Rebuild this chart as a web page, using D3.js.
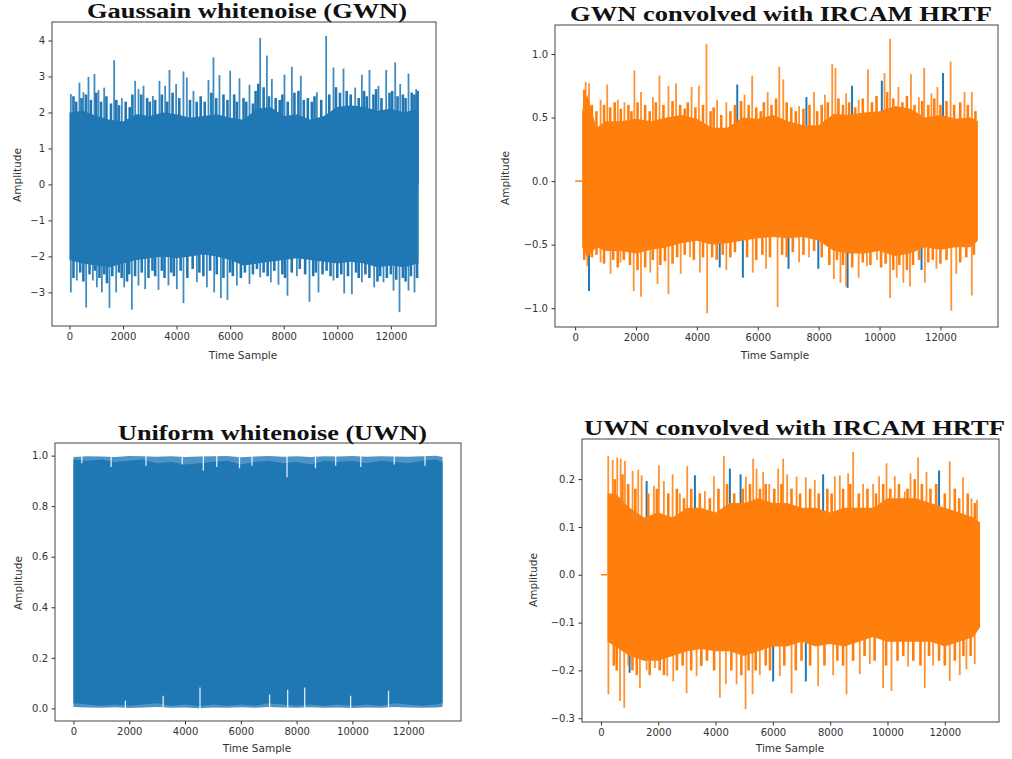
<!DOCTYPE html>
<html>
<head>
<meta charset="utf-8">
<script src="https://cdn.jsdelivr.net/npm/d3@7"></script>
<style>
    body { margin: 0; background: #ffffff; }
    svg { display: block; }
    .tick text { font-family: "DejaVu Sans", sans-serif; font-size: 10px; fill: #333333; }
    .tick line { stroke: #333333; }
</style>
</head>
<body>
<div id="chart"></div>
<script>
// signal lengths (samples) and onset of the convolved signals
const gwnLength = 13034;
const uwnLength = 13230;
const convLength = 13230;
const hrtfOnset = 230;

// ---- Gaussian white noise: dense body envelope + peak spikes [sample, amplitude]
const gwnBodyT = [0, 500, 1000, 1500, 2000, 2500, 3000, 3500, 4000, 4500, 5000, 5500, 6000, 6500, 7000,
    7500, 8000, 8500, 9000, 9500, 10000, 10500, 11000, 11500, 12000, 12500, 13000, 13034];
const gwnBodyHi = [2.0, 2.05, 1.9, 1.8, 1.75, 1.95, 1.9, 2.0, 1.95, 1.85, 1.9, 1.95, 1.85, 1.8, 2.1,
    2.15, 1.9, 1.95, 1.8, 1.9, 2.15, 2.2, 2.15, 2.05, 2.1, 2.0, 2.1, 2.1];
const gwnBodyLo = [-2.1, -2.2, -2.25, -2.3, -2.2, -2.1, -2.05, -2.0, -2.05, -2.0, -1.95, -2.0, -2.1, -2.25,
    -2.2, -2.15, -2.1, -2.05, -2.1, -2.15, -2.2, -2.15, -2.2, -2.3, -2.25, -2.3, -2.2, -2.2];
const gwnUp = [[52, 2.51], [373, 2.83], [523, 2.56], [710, 2.99], [934, 3.07], [1083, 2.62], [1296, 2.69],
    [1669, 3.45], [1957, 2.40], [2453, 2.88], [2578, 2.65], [2765, 2.74], [3114, 2.46], [3361, 2.88],
    [3574, 2.74], [3734, 3.18], [3984, 2.79], [4257, 3.14], [4383, 2.97], [4630, 2.60], [5190, 2.90],
    [5377, 3.53], [5601, 3.04], [6001, 3.16], [6348, 2.95], [6722, 2.77], [7121, 4.07], [7371, 3.58],
    [7558, 2.93], [8028, 3.05], [8304, 3.27], [8640, 3.02], [9238, 2.56], [9585, 4.13], [9858, 3.25],
    [10232, 3.22], [10669, 2.69], [10919, 3.05], [11202, 3.18], [11538, 2.74], [11826, 3.18],
    [12162, 3.39], [12349, 2.79], [12659, 3.08], [12946, 2.65]];
const gwnDown = [[52, -3.0], [276, -2.67], [624, -3.42], [873, -2.67], [1023, -2.86], [1210, -3.0],
    [1494, -3.43], [1744, -3.0], [2043, -2.86], [2330, -3.48], [2578, -2.81], [2827, -2.91], [3324, -2.93],
    [3697, -2.81], [4010, -2.91], [4257, -3.30], [4757, -2.72], [5131, -2.86], [5403, -3.0], [5653, -3.16],
    [5900, -3.21], [6251, -2.81], [6722, -2.77], [7121, -2.58], [7520, -2.72], [7804, -2.79], [8140, -3.09],
    [8491, -2.55], [8962, -3.26], [9298, -3.0], [9858, -2.67], [10258, -3.03], [10545, -3.05],
    [10919, -2.72], [11378, -2.86], [11725, -2.72], [12099, -2.95], [12323, -3.55], [12659, -2.95],
    [12883, -3.0]];
// medium peaks forming the ragged fringe of the body
const gwnFringe = [[150, 2.45], [250, 2.3], [450, 2.4], [620, 2.5], [800, 2.35], [1000, 2.55], [1180, 2.3],
    [1380, 2.45], [1550, 2.25], [1750, 2.35], [1850, 2.2], [2100, 2.3], [2250, 2.15], [2350, 2.5],
    [2680, 2.5], [2900, 2.4], [3000, 2.3], [3200, 2.35], [3450, 2.5], [3650, 2.3], [3850, 2.55], [4100, 2.4],
    [4500, 2.35], [4750, 2.3], [4900, 2.45], [5050, 2.3], [5300, 2.55], [5480, 2.4], [5750, 2.5], [5900, 2.35],
    [6150, 2.5], [6250, 2.3], [6500, 2.4], [6600, 2.3], [6850, 2.25], [6950, 2.6], [7050, 2.8], [7250, 2.7],
    [7450, 2.45], [7700, 2.4], [7850, 2.35], [7950, 2.5], [8150, 2.3], [8400, 2.55], [8550, 2.6], [8750, 2.35],
    [8900, 2.4], [9050, 2.3], [9150, 2.45], [9400, 2.35], [9700, 2.5], [9950, 2.7], [10100, 2.55],
    [10350, 2.6], [10500, 2.5], [10800, 2.4], [11000, 2.6], [11100, 2.45], [11350, 2.5], [11450, 2.65],
    [11650, 2.4], [11950, 2.55], [12050, 2.6], [12250, 2.45], [12450, 2.5], [12550, 2.4], [12780, 2.55],
    [12880, 2.5], [13000, 2.6],
    [150, -2.6], [400, -2.45], [520, -2.7], [750, -2.5], [950, -2.4], [1120, -2.6], [1300, -2.5], [1400, -2.75],
    [1600, -2.55], [1850, -2.45], [1950, -2.6], [2150, -2.7], [2230, -2.5], [2450, -2.55], [2700, -2.45],
    [2950, -2.6], [3100, -2.4], [3200, -2.55], [3450, -2.4], [3550, -2.6], [3800, -2.45], [3900, -2.55],
    [4150, -2.4], [4400, -2.6], [4600, -2.35], [4850, -2.45], [5000, -2.55], [5250, -2.4], [5500, -2.5],
    [5750, -2.6], [6000, -2.45], [6100, -2.55], [6400, -2.6], [6550, -2.45], [6850, -2.5], [7000, -2.35],
    [7250, -2.45], [7400, -2.55], [7650, -2.4], [7950, -2.5], [8050, -2.6], [8300, -2.45], [8600, -2.35],
    [8800, -2.5], [9100, -2.55], [9200, -2.45], [9450, -2.5], [9600, -2.4], [9750, -2.55], [10000, -2.6],
    [10150, -2.5], [10400, -2.55], [10700, -2.45], [10800, -2.6], [11050, -2.5], [11200, -2.6], [11500, -2.7],
    [11600, -2.55], [11850, -2.6], [12000, -2.5], [12200, -2.65], [12450, -2.6], [12550, -2.7], [12750, -2.55],
    [12980, -2.6]];

// ---- GWN convolved with IRCAM HRTF (orange = shown channel, blue = tips visible behind it)
const gwnConvBodyT = [230, 400, 700, 1000, 1500, 2000, 2500, 3000, 3500, 4000, 4500, 5000, 5500, 6000,
    6500, 7000, 7500, 8000, 8500, 9000, 9500, 10000, 10500, 11000, 11500, 12000, 12500, 13000, 13230];
const gwnConvBodyHi = [0.55, 0.68, 0.42, 0.47, 0.47, 0.49, 0.47, 0.5, 0.52, 0.49, 0.42, 0.42, 0.5, 0.49,
    0.52, 0.47, 0.44, 0.44, 0.53, 0.52, 0.54, 0.55, 0.59, 0.57, 0.5, 0.52, 0.49, 0.5, 0.47];
const gwnConvBodyLo = [-0.52, -0.6, -0.52, -0.55, -0.55, -0.57, -0.54, -0.52, -0.49, -0.47, -0.5, -0.49,
    -0.47, -0.45, -0.44, -0.45, -0.44, -0.47, -0.55, -0.57, -0.57, -0.55, -0.59, -0.57, -0.52, -0.54, -0.52,
    -0.52, -0.47];
const gwnConvUp = [[348, 0.78], [456, 0.77], [837, 0.64], [1054, 0.76], [1402, 0.64], [1620, 0.62],
    [1946, 0.87], [2163, 0.70], [2554, 0.66], [2771, 0.83], [3065, 0.75], [3315, 0.77], [3826, 0.74],
    [4065, 0.75], [4315, 1.08], [4663, 0.64], [4967, 0.62], [5565, 0.68], [5815, 0.83], [6326, 0.70],
    [6706, 0.90], [6837, 0.80], [7358, 0.59], [7848, 0.70], [8206, 0.68], [8445, 0.92], [8553, 0.89],
    [8902, 0.69], [9315, 0.64], [9618, 0.88], [10163, 0.85], [10346, 1.12], [10620, 0.74], [11031, 0.84],
    [11292, 0.66], [11467, 0.89], [11706, 0.69], [11901, 0.74], [12335, 0.94], [12791, 0.70], [13032, 0.70]];
const gwnConvDown = [[402, -0.67], [837, -0.64], [1163, -0.73], [1489, -0.64], [1924, -0.865],
    [2163, -0.91], [2467, -0.72], [2706, -0.81], [3065, -0.89], [3467, -0.73], [3772, -0.60], [4098, -0.72],
    [4337, -1.04], [4967, -0.70], [5836, -0.72], [6272, -0.69], [6651, -0.99], [7358, -0.64], [7684, -0.60],
    [8499, -0.77], [8716, -0.80], [8902, -0.83], [9315, -0.76], [9586, -0.67], [9912, -0.62],
    [10346, -0.92], [10564, -0.76], [10782, -0.80], [11000, -0.83], [11487, -0.80], [11868, -0.69],
    [12357, -1.02], [12520, -0.73], [13032, -0.90]];
const gwnConvBlue = [[456, -0.865], [5326, 0.76], [7597, 0.66], [9097, 0.75], [10075, 0.79],
    [12086, 0.85], [4750, -0.68], [5510, -0.76], [7010, -0.69], [7988, -0.69], [11379, -0.70], [8950, -0.84]];
const gwnConvFringe = [[300, 0.72], [550, 0.6], [700, 0.55], [950, 0.6], [1150, 0.58], [1300, 0.62],
    [1500, 0.57], [1750, 0.6], [1850, 0.55], [2050, 0.62], [2300, 0.6], [2450, 0.55], [2650, 0.62],
    [2900, 0.6], [3200, 0.63], [3450, 0.6], [3600, 0.57], [3700, 0.62], [3950, 0.58], [4200, 0.6],
    [4450, 0.55], [4550, 0.58], [4800, 0.52], [5100, 0.55], [5250, 0.6], [5450, 0.63], [5700, 0.6],
    [5950, 0.58], [6100, 0.55], [6200, 0.62], [6450, 0.6], [6600, 0.65], [6950, 0.62], [7100, 0.58],
    [7250, 0.55], [7500, 0.57], [7700, 0.6], [7950, 0.55], [8100, 0.6], [8300, 0.62], [8650, 0.65],
    [8800, 0.6], [9000, 0.62], [9200, 0.58], [9450, 0.65], [9750, 0.62], [9900, 0.67], [10250, 0.7],
    [10450, 0.65], [10750, 0.62], [10900, 0.67], [11150, 0.6], [11400, 0.63], [11600, 0.6], [11800, 0.65],
    [12000, 0.6], [12200, 0.63], [12450, 0.6], [12650, 0.62], [12900, 0.6], [13150, 0.55],
    [300, -0.62], [550, -0.6], [700, -0.58], [950, -0.65], [1250, -0.62], [1400, -0.68], [1600, -0.62],
    [1800, -0.66], [2050, -0.7], [2300, -0.68], [2550, -0.62], [2800, -0.66], [2950, -0.63], [3200, -0.65],
    [3350, -0.6], [3600, -0.58], [3900, -0.62], [4200, -0.6], [4500, -0.6], [4650, -0.62], [4850, -0.58],
    [5100, -0.6], [5250, -0.56], [5650, -0.6], [5950, -0.62], [6150, -0.58], [6400, -0.6], [6800, -0.58],
    [6950, -0.6], [7150, -0.56], [7500, -0.58], [7850, -0.55], [8100, -0.6], [8350, -0.66], [8600, -0.62],
    [8800, -0.66], [9100, -0.68], [9450, -0.64], [9700, -0.66], [10050, -0.68], [10200, -0.65],
    [10450, -0.7], [10650, -0.66], [10900, -0.7], [11100, -0.66], [11300, -0.62], [11600, -0.64],
    [11750, -0.62], [12000, -0.65], [12200, -0.62], [12650, -0.64], [12850, -0.6], [13100, -0.58]];

// ---- Uniform white noise: body top/bottom, lighter outer fringe, notches and bumps
const uwnBodyT = [0, 500, 1000, 1500, 2000, 2500, 3000, 3500, 4000, 4500, 5000, 5500, 6000, 6500, 7000,
    7500, 8000, 8500, 9000, 9500, 10000, 10500, 11000, 11500, 12000, 12500, 13000, 13230];
const uwnBodyHi = [0.985, 0.98, 0.985, 0.975, 0.98, 0.985, 0.97, 0.975, 0.965, 0.97, 0.975, 0.98, 0.965,
    0.975, 0.98, 0.97, 0.975, 0.965, 0.98, 0.975, 0.98, 0.97, 0.98, 0.975, 0.97, 0.98, 0.985, 0.975];
const uwnBodyLo = [0.02, 0.015, 0.01, 0.015, 0.01, 0.015, 0.02, 0.01, 0.015, 0.008, 0.015, 0.01, 0.015,
    0.01, 0.02, 0.015, 0.01, 0.015, 0.01, 0.015, 0.01, 0.015, 0.01, 0.02, 0.015, 0.01, 0.015, 0.02];
const uwnOuterHi = [0.995, 0.998, 0.997, 0.995, 0.999, 0.998, 0.996, 0.998, 0.995, 0.997, 0.998, 0.999,
    0.994, 0.997, 0.999, 0.996, 0.998, 0.995, 0.998, 0.997, 0.999, 0.996, 0.998, 0.997, 0.996, 0.998, 1.0, 0.995];
const uwnOuterLo = [0.005, 0.003, 0.002, 0.004, 0.001, 0.003, 0.005, 0.002, 0.003, 0.0, 0.003, 0.002,
    0.004, 0.002, 0.005, 0.003, 0.002, 0.004, 0.002, 0.003, 0.001, 0.003, 0.002, 0.005, 0.003, 0.002, 0.003, 0.005];
const uwnNotches = [[300, 0.97], [1350, 0.955], [2600, 0.96], [3900, 0.965], [4656, 0.94], [5136, 0.955],
    [5951, 0.95], [6400, 0.96], [7656, 0.914], [8675, 0.95], [9400, 0.96], [10300, 0.955], [11500, 0.965],
    [12600, 0.96]];
const uwnBumps = [[1861, 0.03], [3215, 0.05], [4536, 0.083], [7031, 0.055], [7679, 0.074], [8290, 0.083],
    [9935, 0.05], [11293, 0.07]];

// ---- UWN convolved with IRCAM HRTF
const uwnConvBodyT = [230, 500, 1000, 1500, 2000, 2500, 3000, 3500, 4000, 4500, 5000, 5500, 6000, 6500,
    7000, 7500, 8000, 8500, 9000, 9500, 10000, 10500, 11000, 11500, 12000, 12500, 13000, 13230];
const uwnConvBodyHi = [0.17, 0.17, 0.14, 0.12, 0.13, 0.12, 0.14, 0.14, 0.13, 0.15, 0.15, 0.16, 0.15, 0.15,
    0.14, 0.14, 0.13, 0.14, 0.14, 0.14, 0.16, 0.16, 0.16, 0.15, 0.14, 0.13, 0.12, 0.11];
const uwnConvBodyLo = [-0.14, -0.15, -0.17, -0.18, -0.18, -0.17, -0.16, -0.155, -0.16, -0.16, -0.17, -0.16,
    -0.15, -0.15, -0.14, -0.15, -0.145, -0.15, -0.14, -0.13, -0.14, -0.14, -0.14, -0.14, -0.15, -0.14,
    -0.13, -0.11];
const uwnConvUp = [[255, 0.248], [408, 0.240], [569, 0.245], [687, 0.243], [837, 0.238], [1105, 0.217],
    [1301, 0.22], [1420, 0.208], [1849, 0.186], [2023, 0.229], [2197, 0.196], [2501, 0.21], [2755, 0.17],
    [3010, 0.227], [3627, 0.175], [3941, 0.206], [4290, 0.248], [5058, 0.205], [5312, 0.243], [5430, 0.222],
    [5662, 0.215], [5871, 0.19], [6184, 0.222], [6359, 0.243], [6499, 0.21], [6826, 0.205], [7150, 0.204],
    [7464, 0.198], [8162, 0.206], [8336, 0.208], [8627, 0.212], [8801, 0.257], [9150, 0.19], [9499, 0.19],
    [9708, 0.206], [9966, 0.233], [10255, 0.206], [10604, 0.174], [10803, 0.212], [11068, 0.245],
    [11361, 0.215], [12173, 0.237], [12637, 0.204], [12930, 0.16], [13125, 0.157]];
const uwnConvDown = [[260, -0.25], [663, -0.264], [813, -0.278], [953, -0.19], [1360, -0.237], [1594, -0.2],
    [1883, -0.195], [2313, -0.212], [2522, -0.223], [2989, -0.248], [3338, -0.212], [4151, -0.257],
    [4360, -0.229], [4733, -0.229], [5047, -0.281], [5291, -0.25], [5546, -0.21], [6243, -0.212],
    [6652, -0.248], [7580, -0.233], [8103, -0.21], [8570, -0.25], [9034, -0.208], [9383, -0.187],
    [9847, -0.237], [10140, -0.243], [10720, -0.192], [11301, -0.237], [11592, -0.19], [12173, -0.222],
    [12522, -0.21], [12755, -0.198], [13045, -0.187]];
const uwnConvBlue = [[1594, 0.196], [3279, 0.208], [4499, 0.222], [4873, 0.21], [7754, 0.21],
    [11800, 0.218], [6010, -0.223], [7150, -0.223], [1000, -0.205], [3500, -0.19]];
const uwnConvFringe = [[480, 0.2], [750, 0.21], [950, 0.19], [1200, 0.18], [1650, 0.17], [1950, 0.18],
    [2350, 0.17], [2650, 0.18], [2900, 0.16], [3150, 0.18], [3450, 0.17], [3800, 0.16], [4100, 0.18],
    [4400, 0.19], [4650, 0.17], [4950, 0.18], [5200, 0.19], [5550, 0.18], [5750, 0.19], [6050, 0.18],
    [6300, 0.19], [6650, 0.18], [6950, 0.17], [7300, 0.18], [7600, 0.17], [7900, 0.18], [8050, 0.17],
    [8450, 0.18], [8700, 0.19], [9000, 0.17], [9300, 0.18], [9600, 0.17], [9850, 0.19], [10100, 0.18],
    [10400, 0.19], [10700, 0.18], [10950, 0.2], [11200, 0.19], [11500, 0.18], [11700, 0.19], [12000, 0.17],
    [12350, 0.18], [12500, 0.16], [12800, 0.17], [13050, 0.15],
    [450, -0.19], [550, -0.2], [1100, -0.2], [1250, -0.21], [1700, -0.21], [2050, -0.2], [2200, -0.21],
    [2650, -0.2], [2850, -0.19], [3150, -0.2], [3500, -0.19], [3700, -0.18], [3950, -0.2], [4550, -0.2],
    [4900, -0.21], [5150, -0.2], [5400, -0.2], [5750, -0.19], [5900, -0.2], [6400, -0.19], [6800, -0.2],
    [7000, -0.18], [7300, -0.19], [7800, -0.19], [8250, -0.18], [8450, -0.19], [8800, -0.18], [9200, -0.17],
    [9550, -0.18], [9950, -0.19], [10350, -0.18], [10550, -0.17], [10900, -0.18], [11150, -0.19],
    [11450, -0.17], [11800, -0.18], [12000, -0.19], [12350, -0.18], [12650, -0.17], [12900, -0.17]];

// lead-in of zeros before the HRTF response starts
const convLeadT = [0, hrtfOnset];
const convLeadV = [0, 0];

// tick labels
const timeTicks = [0, 2000, 4000, 6000, 8000, 10000, 12000];
const gwnTicks = [-3, -2, -1, 0, 1, 2, 3, 4];
const gwnConvTicks = [-1.0, -0.5, 0.0, 0.5, 1.0];
const uwnTicks = [0.0, 0.2, 0.4, 0.6, 0.8, 1.0];
const uwnConvTicks = [-0.3, -0.2, -0.1, 0.0, 0.1, 0.2];

const blue = '#1f77b4';
const orange = '#ff7f0e';

const svg = d3.select('#chart').append('svg')
    .attr('width', 1012)
    .attr('height', 759);

// matplotlib style 5% margins
function pad(ext) {
    const r = ext[1] - ext[0];
    return [ext[0] - 0.05 * r, ext[1] + 0.05 * r];
}

function zip(ts, vs) {
    return ts.map((t, i) => [t, vs[i]]);
}

function stems(sel, cls, data, x, y, base, color, width, opacity) {
    sel.selectAll('.' + cls)
        .data(data)
        .join('line')
        .attr('class', cls)
        .attr('x1', d => x(d[0])).attr('x2', d => x(d[0]))
        .attr('y1', y(base)).attr('y2', d => y(d[1]))
        .attr('stroke', color)
        .attr('stroke-opacity', opacity)
        .attr('stroke-width', width);
}

function drawPanel(cfg) {
    const g = svg.append('g');

    const x = d3.scaleLinear()
        .domain(pad([0, cfg.length]))
        .range([cfg.left, cfg.right]);

    const allValues = [...cfg.bodyHi, ...cfg.bodyLo, ...(cfg.outerHi || []), ...(cfg.outerLo || []),
        ...cfg.up.map(d => d[1]), ...cfg.down.map(d => d[1]), ...(cfg.blue || []).map(d => d[1])];
    const y = d3.scaleLinear()
        .domain(pad(d3.extent(allValues)))
        .range([cfg.bottom, cfg.top]);

    const plot = g.append('g');
    const area = d3.area()
        .x(d => x(d[0]))
        .y0(d => y(d[2]))
        .y1(d => y(d[1]));

    // spikes of the channel hidden behind (blue)
    if (cfg.blue) stems(plot, 'blue-spike', cfg.blue, x, y, 0, blue, 2, 1);

    // zero lead-in
    if (cfg.lead) {
        plot.append('path')
            .datum(zip(convLeadT, convLeadV))
            .attr('d', d3.line().x(d => x(d[0])).y(d => y(d[1])))
            .attr('fill', 'none')
            .attr('stroke', cfg.color)
            .attr('stroke-width', 1.5);
    }

    // lighter outer fringe (uniform noise)
    if (cfg.outerHi) {
        plot.append('path')
            .datum(cfg.bodyT.map((t, i) => [t, cfg.outerHi[i], cfg.outerLo[i]]))
            .attr('d', area)
            .attr('fill', '#4f94c7');
    }

    // fringe of medium peaks and the large peaks
    if (cfg.fringe) stems(plot, 'fringe', cfg.fringe, x, y, 0, cfg.color, 2.6, 1);
    stems(plot, 'spike', cfg.up.concat(cfg.down), x, y, 0, cfg.color, 1.8, cfg.spikeOpacity);

    // dense body of the noise
    plot.append('path')
        .datum(cfg.bodyT.map((t, i) => [t, cfg.bodyHi[i], cfg.bodyLo[i]]))
        .attr('d', area)
        .attr('fill', cfg.color);

    // gaps (uniform noise): top notches and bottom bumps
    if (cfg.notches) {
        stems(plot, 'notch', cfg.notches, x, y, 1.0, '#ffffff', 1.3, 0.85);
        stems(plot, 'bump', cfg.bumps, x, y, 0.0, '#ffffff', 1.3, 0.85);
    }

    // axes
    const xAxis = g.append('g')
        .attr('transform', `translate(0,${cfg.bottom})`)
        .call(d3.axisBottom(x).tickValues(timeTicks).tickFormat(d3.format('d'))
            .tickSize(3.5).tickSizeOuter(0).tickPadding(3.5));
    xAxis.select('.domain').remove();

    const yAxis = g.append('g')
        .attr('transform', `translate(${cfg.left},0)`)
        .call(d3.axisLeft(y).tickValues(cfg.yTicks).tickFormat(d3.format(cfg.yFormat))
            .tickSize(3.5).tickSizeOuter(0).tickPadding(3.5));
    yAxis.select('.domain').remove();

    // frame
    g.append('rect')
        .attr('x', cfg.left).attr('y', cfg.top)
        .attr('width', cfg.right - cfg.left).attr('height', cfg.bottom - cfg.top)
        .attr('fill', 'none')
        .attr('stroke', '#444444')
        .attr('stroke-width', 1);

    // labels
    g.append('text')
        .attr('x', cfg.xLabelX).attr('y', cfg.xLabelY)
        .attr('text-anchor', 'middle')
        .style('font-family', '"DejaVu Sans", sans-serif')
        .style('font-size', '10.5px')
        .attr('fill', '#333333')
        .text('Time Sample');

    g.append('text')
        .attr('transform', `translate(${cfg.yLabelX},${cfg.yLabelY}) rotate(-90)`)
        .attr('text-anchor', 'middle')
        .attr('dominant-baseline', 'central')
        .style('font-family', '"DejaVu Sans", sans-serif')
        .style('font-size', '10.5px')
        .attr('fill', '#333333')
        .text('Amplitude');

    g.append('text')
        .attr('x', cfg.titleX).attr('y', cfg.titleY)
        .attr('textLength', cfg.titleW)
        .attr('lengthAdjust', 'spacingAndGlyphs')
        .style('font-family', '"Liberation Serif", "DejaVu Serif", serif')
        .style('font-weight', 'bold')
        .style('font-size', '20px')
        .attr('fill', '#111111')
        .text(cfg.title);
}

drawPanel({
    title: 'Gaussain whitenoise (GWN)', titleX: 87, titleY: 18, titleW: 320,
    left: 52, right: 436, top: 22, bottom: 326,
    xLabelX: 243, xLabelY: 359, yLabelX: 17, yLabelY: 175,
    length: gwnLength, color: blue, spikeOpacity: 0.85,
    bodyT: gwnBodyT, bodyHi: gwnBodyHi, bodyLo: gwnBodyLo, up: gwnUp, down: gwnDown, fringe: gwnFringe,
    yTicks: gwnTicks, yFormat: 'd'
});

drawPanel({
    title: 'GWN convolved with IRCAM HRTF', titleX: 570, titleY: 21, titleW: 422,
    left: 555, right: 998, top: 25, bottom: 327,
    xLabelX: 775, xLabelY: 359, yLabelX: 505, yLabelY: 178,
    length: convLength, color: orange, lead: true, spikeOpacity: 0.85,
    bodyT: gwnConvBodyT, bodyHi: gwnConvBodyHi, bodyLo: gwnConvBodyLo, up: gwnConvUp, down: gwnConvDown,
    fringe: gwnConvFringe, blue: gwnConvBlue,
    yTicks: gwnConvTicks, yFormat: '.1f'
});

drawPanel({
    title: 'Uniform whitenoise (UWN)', titleX: 118, titleY: 440, titleW: 309,
    left: 55, right: 461, top: 443, bottom: 721,
    xLabelX: 257, xLabelY: 752, yLabelX: 18, yLabelY: 583,
    length: uwnLength, color: blue, spikeOpacity: 1,
    bodyT: uwnBodyT, bodyHi: uwnBodyHi, bodyLo: uwnBodyLo, outerHi: uwnOuterHi, outerLo: uwnOuterLo,
    up: [], down: [], notches: uwnNotches, bumps: uwnBumps,
    yTicks: uwnTicks, yFormat: '.1f'
});

drawPanel({
    title: 'UWN convolved with IRCAM HRTF', titleX: 584, titleY: 435, titleW: 421,
    left: 582, right: 999, top: 439, bottom: 722,
    xLabelX: 790, xLabelY: 752, yLabelX: 533, yLabelY: 580,
    length: convLength, color: orange, lead: true, spikeOpacity: 0.85,
    bodyT: uwnConvBodyT, bodyHi: uwnConvBodyHi, bodyLo: uwnConvBodyLo, up: uwnConvUp, down: uwnConvDown,
    fringe: uwnConvFringe, blue: uwnConvBlue,
    yTicks: uwnConvTicks, yFormat: '.1f'
});
</script>
</body>
</html>
